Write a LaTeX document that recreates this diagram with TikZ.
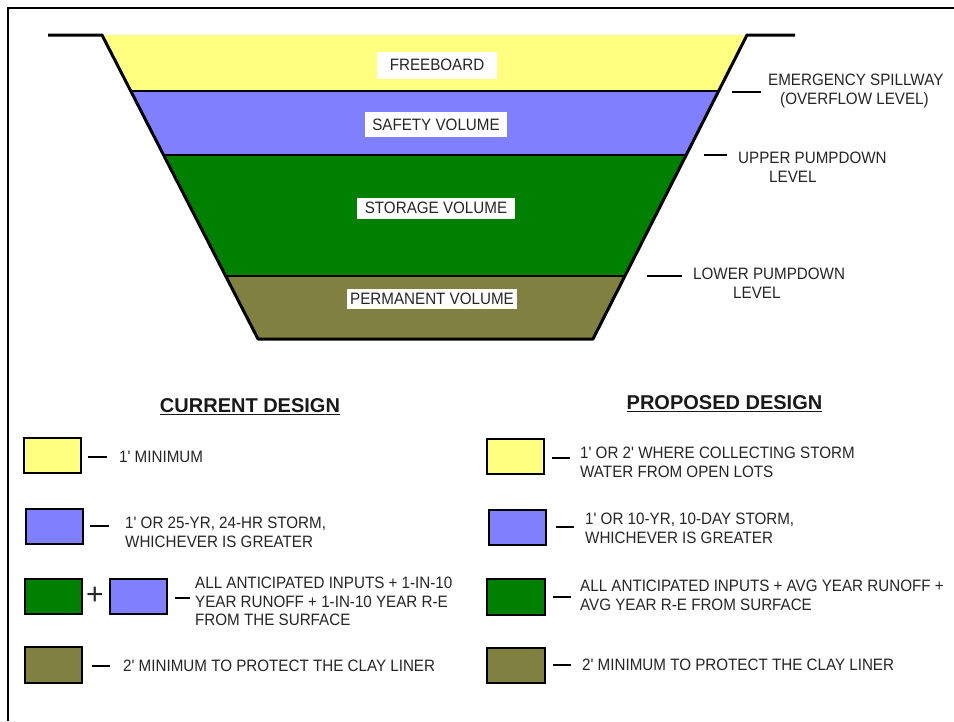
\documentclass[tikz,border=0pt]{standalone}
\usepackage{fontspec}
\setmainfont{Liberation Sans}
\newfontfamily\lblfont[FakeStretch=0.92]{Liberation Sans}
\usetikzlibrary{calc}
\definecolor{freeyel}{RGB}{255,255,128}
\definecolor{safeblue}{RGB}{128,128,255}
\definecolor{storgreen}{RGB}{0,128,0}
\definecolor{permolive}{RGB}{128,128,64}
\tikzset{
  lbl/.style={font=\lblfont\fontsize{16.5}{18.5}\selectfont, text=black!85, inner sep=0pt, align=left, anchor=north west},
  pondlbl/.style={font=\lblfont\fontsize{16.5}{18.5}\selectfont, text=black!85, fill=white, inner sep=0pt, text height=11.8pt, text depth=0pt},
  heading/.style={font=\fontsize{20}{22}\selectfont\bfseries, text=black!90, inner sep=0pt, anchor=north},
  keybox/.style={draw=black, line width=1.6pt},
  tick/.style={line width=1.6pt}
}
\begin{document}
\begin{tikzpicture}[x=1pt,y=-1pt]
  \useasboundingbox (0,0) rectangle (954,721);
  \fill[white] (0,0) rectangle (954,721);
  \draw[line width=2.4pt] (8,721) -- (8,8) -- (954,8);

  % pond cross-section
  \coordinate (tl) at (102,35);
  \coordinate (tr) at (747,35);
  \coordinate (bl) at (258,339);
  \coordinate (br) at (593,339);
  \foreach \n/\t in {1/0.184, 2/0.395, 3/0.793} {
    \coordinate (l\n) at ($(tl)!\t!(bl)$);
    \coordinate (r\n) at ($(tr)!\t!(br)$);
  }
  \fill[freeyel] (tl) -- (tr) -- (r1) -- (l1) -- cycle;
  \fill[safeblue] (l1) -- (r1) -- (r2) -- (l2) -- cycle;
  \fill[storgreen] (l2) -- (r2) -- (r3) -- (l3) -- cycle;
  \fill[permolive] (l3) -- (r3) -- (br) -- (bl) -- cycle;
  \foreach \n in {1,2,3}
    \draw[line width=2.6pt] (l\n) -- (r\n);
  \draw[line width=3pt, line join=round] (48,35) -- (tl) -- (bl) -- (br) -- (tr) -- (795,35);

  \node[pondlbl, minimum width=120pt, minimum height=27pt] (freeboard) at (437,65) {FREEBOARD};
  \node[pondlbl, minimum width=142pt, minimum height=25pt] (safety) at (436,124.5) {SAFETY VOLUME};
  \node[pondlbl, minimum width=158pt, minimum height=21pt] (storage) at (436,208) {STORAGE VOLUME};
  \node[pondlbl, minimum width=170pt, minimum height=20pt] (permanent) at (432,299) {PERMANENT VOLUME};

  % levels on the right
  \node[lbl] (spillway) at (768,74) {EMERGENCY SPILLWAY\\\hspace*{12pt}(OVERFLOW LEVEL)};
  \node[lbl] (upper) at (738,152) {UPPER PUMPDOWN\\\hspace*{31pt}LEVEL};
  \node[lbl] (lower) at (693,268) {LOWER PUMPDOWN\\\hspace*{40pt}LEVEL};
  \draw[tick] (732,92) -- (761,92);
  \draw[tick] (704,155) -- (727,155);
  \draw[tick] (647,276) -- (682,276);

  % current design
  \node[heading] (current) at (250,398) {\underline{CURRENT DESIGN}};
  \draw[keybox, fill=freeyel] (24,438) rectangle (81,473);
  \draw[keybox, fill=safeblue] (26,509) rectangle (83,544);
  \draw[keybox, fill=storgreen] (25,579) rectangle (82,614);
  \draw[keybox, fill=safeblue] (110,579) rectangle (167,614);
  \draw[keybox, fill=permolive] (25,647) rectangle (82,683);
  \node[font=\fontsize{30}{30}\selectfont, text=black!85, inner sep=0pt] (plus) at (95,596) {+};
  \draw[tick] (88,457) -- (107,457);
  \draw[tick] (90,526) -- (109,526);
  \draw[tick] (175,598) -- (190,598);
  \draw[tick] (92,666) -- (110,666);
  \node[lbl] (cfree) at (119,451) {1' MINIMUM};
  \node[lbl] (csafe) at (125,517) {1' OR 25-YR, 24-HR STORM,\\WHICHEVER IS GREATER};
  \node[lbl] (cstor) at (195,577) {ALL ANTICIPATED INPUTS + 1-IN-10\\YEAR RUNOFF + 1-IN-10 YEAR R-E\\FROM THE SURFACE};
  \node[lbl] (cperm) at (123,660) {2' MINIMUM TO PROTECT THE CLAY LINER};

  % proposed design
  \node[heading] (proposed) at (724.5,395) {\underline{PROPOSED DESIGN}};
  \draw[keybox, fill=freeyel] (487,439) rectangle (544,474);
  \draw[keybox, fill=safeblue] (489,510) rectangle (546,545);
  \draw[keybox, fill=storgreen] (487,579) rectangle (545,615);
  \draw[keybox, fill=permolive] (487,648) rectangle (545,683);
  \draw[tick] (552,458) -- (570,458);
  \draw[tick] (556,527) -- (574,527);
  \draw[tick] (553,597) -- (571,597);
  \draw[tick] (553,665) -- (571,665);
  \node[lbl] (pfree) at (580,447) {1' OR 2' WHERE COLLECTING STORM\\WATER FROM OPEN LOTS};
  \node[lbl] (psafe) at (585,513) {1' OR 10-YR, 10-DAY STORM,\\WHICHEVER IS GREATER};
  \node[lbl] (pstor) at (580,580) {ALL ANTICIPATED INPUTS + AVG YEAR RUNOFF +\\AVG YEAR R-E FROM SURFACE};
  \node[lbl] (pperm) at (582,659) {2' MINIMUM TO PROTECT THE CLAY LINER};
\end{tikzpicture}
\end{document}
